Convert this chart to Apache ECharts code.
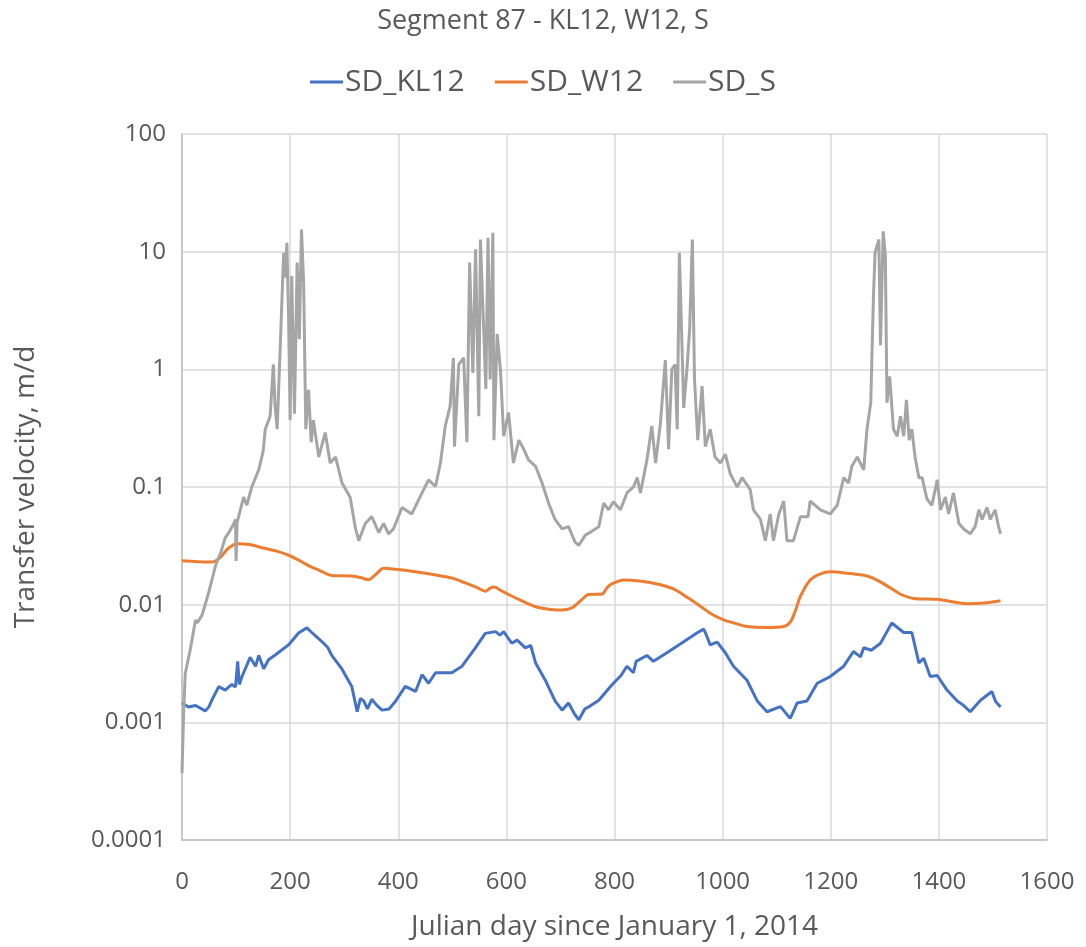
<!DOCTYPE html>
<html>
<head>
<meta charset="utf-8">
<script src="https://cdn.jsdelivr.net/npm/echarts@6/dist/echarts.min.js"></script>
<style>
html,body{margin:0;padding:0;background:#fff;}
#chart{width:1086px;height:947px;}
</style>
</head>
<body>
<div id="chart"></div>
<script>
const chartTitle = "Segment 87 - KL12, W12, S";
const seriesNames = ["SD_KL12", "SD_W12", "SD_S"];
const xTickLabels = ["0","200","400","600","800","1000","1200","1400","1600"];
const yTickLabels = ["0.0001","0.001","0.01","0.1","1","10","100"];

const kl12Days = [0,12,25,43,50,55,68,80,92,99,103,106,111,126,136,142,151,160,173,197,216,231,240,247,262,270,277,296,314,324,330,336,343,351,360,370,383,395,413,432,444,456,469,499,518,543,561,580,588,595,610,620,635,645,654,672,690,703,715,725,734,745,752,771,789,798,812,823,835,840,860,872,897,928,953,965,970,977,990,1005,1020,1045,1064,1082,1107,1125,1138,1156,1175,1199,1224,1242,1255,1261,1275,1292,1313,1325,1335,1350,1363,1372,1384,1397,1415,1434,1445,1458,1477,1498,1505,1514];
const kl12Vals = [0.00146,0.00135,0.00139,0.00125,0.00136,0.00154,0.00201,0.00188,0.0021,0.0020,0.0033,0.0021,0.00245,0.00357,0.0030,0.0037,0.00285,0.0034,0.00375,0.00455,0.00577,0.00635,0.0058,0.00543,0.0047,0.0043,0.0037,0.00283,0.00202,0.00123,0.0016,0.00152,0.0013,0.00157,0.0014,0.00127,0.0013,0.00151,0.00202,0.00183,0.00254,0.00215,0.00264,0.00264,0.0030,0.00431,0.0057,0.0059,0.0055,0.0059,0.0047,0.0050,0.0043,0.0045,0.0032,0.00228,0.00152,0.00127,0.00146,0.0012,0.00105,0.0013,0.00135,0.00154,0.00193,0.00215,0.0025,0.0030,0.00264,0.0033,0.0037,0.0033,0.0039,0.00484,0.00577,0.0062,0.0055,0.00455,0.0048,0.0039,0.0030,0.00228,0.00152,0.00123,0.00136,0.00108,0.00146,0.00152,0.00215,0.00245,0.0030,0.0040,0.0036,0.0043,0.0041,0.0047,0.0070,0.0063,0.0058,0.0058,0.0032,0.0035,0.00245,0.0025,0.00188,0.00152,0.0014,0.00123,0.00154,0.00183,0.0015,0.00135];

const w12Days = [0,30,55,70,85,102,125,148,175,197,215,234,255,277,314,330,345,358,373,395,419,475,500,524,545,561,570,577,590,604,630,654,675,697,721,740,752,777,786,795,817,850,879,909,935,959,980,1002,1025,1045,1080,1113,1125,1135,1144,1162,1180,1199,1230,1267,1290,1310,1330,1353,1397,1452,1489,1514];
const w12Vals = [0.0236,0.0232,0.023,0.025,0.030,0.033,0.0325,0.0305,0.0285,0.0263,0.024,0.0215,0.0195,0.0177,0.0175,0.017,0.0163,0.018,0.0204,0.020,0.0194,0.0177,0.0168,0.0153,0.014,0.0130,0.0138,0.0141,0.0132,0.0122,0.0107,0.0096,0.0092,0.0090,0.0094,0.0111,0.0122,0.0123,0.0139,0.015,0.0162,0.0158,0.015,0.0136,0.0115,0.0097,0.0083,0.00744,0.0069,0.00653,0.0064,0.00653,0.0071,0.0090,0.0118,0.0162,0.0182,0.0190,0.0185,0.0175,0.0158,0.0139,0.0122,0.0113,0.0111,0.0102,0.0104,0.0108];

const sDays = [0,3,6,15,25,28,37,49,62,72,80,88,95,99,100,102,114,120,129,142,150,154,163,169,172,176,182,188,191,194,197,200,203,208,213,217,221,225,229,234,239,243,253,265,274,284,296,311,321,327,339,351,364,373,382,391,407,425,444,456,469,478,487,496,502,504,512,521,527,532,538,543,549,552,558,562,566,570,575,577,583,589,595,604,613,623,632,641,654,666,678,690,703,715,727,734,746,758,771,780,789,798,811,823,835,842,848,860,869,876,885,894,897,900,906,912,916,920,924,928,934,939,944,948,954,962,968,977,986,996,1005,1014,1027,1036,1051,1057,1070,1079,1088,1094,1104,1113,1119,1131,1144,1158,1162,1181,1199,1212,1224,1233,1239,1249,1261,1267,1274,1279,1282,1289,1292,1297,1301,1304,1309,1316,1323,1329,1335,1340,1345,1350,1356,1363,1369,1378,1387,1397,1403,1412,1418,1427,1437,1446,1458,1467,1474,1480,1489,1495,1504,1510,1514];
const sVals = [0.00037,0.0012,0.0026,0.0041,0.0074,0.0070,0.0081,0.0125,0.0215,0.028,0.037,0.042,0.048,0.053,0.0235,0.05,0.082,0.07,0.10,0.14,0.2,0.31,0.40,1.1,0.5,0.31,1.67,9.8,6,11.9,3,0.37,6.2,0.42,8.1,1.8,15.4,5.4,0.31,0.67,0.24,0.37,0.18,0.29,0.16,0.18,0.108,0.082,0.044,0.035,0.049,0.056,0.041,0.049,0.040,0.044,0.067,0.059,0.089,0.115,0.101,0.16,0.33,0.49,1.25,0.22,1.1,1.25,0.24,8.1,0.93,10.5,0.40,12.7,2.2,0.68,13.1,0.82,14.5,0.25,2.0,1.0,0.27,0.43,0.16,0.25,0.21,0.17,0.15,0.108,0.073,0.053,0.044,0.046,0.034,0.032,0.039,0.042,0.046,0.073,0.064,0.075,0.064,0.089,0.10,0.12,0.089,0.17,0.33,0.16,0.35,1.2,0.52,0.21,1.0,1.1,0.31,9.8,2.2,0.47,1.0,2.2,12.7,0.82,0.25,0.72,0.22,0.31,0.18,0.16,0.19,0.13,0.10,0.12,0.095,0.064,0.053,0.035,0.059,0.035,0.059,0.076,0.035,0.035,0.056,0.056,0.076,0.064,0.059,0.07,0.12,0.108,0.15,0.18,0.14,0.31,0.52,4.2,9.8,12.7,1.6,14.9,9.2,0.52,0.87,0.31,0.27,0.40,0.27,0.55,0.25,0.31,0.18,0.12,0.12,0.079,0.07,0.115,0.064,0.082,0.059,0.089,0.049,0.044,0.040,0.046,0.064,0.053,0.067,0.053,0.064,0.047,0.040];

const colors = ["#4472C4", "#ED7D31", "#A5A5A5"];
const textColor = "#595959";
const fontFamily = "'Open Sans', 'Noto Sans', sans-serif";

function pairs(d, v) { return d.map((x, i) => [x, v[i]]); }

const chart = echarts.init(document.getElementById('chart'), null, {renderer: 'canvas'});
chart.setOption({
  animation: false,
  backgroundColor: '#ffffff',
  title: {
    text: chartTitle,
    left: 'center',
    top: 3,
    textStyle: {color: textColor, fontSize: 27, fontWeight: 'normal', fontFamily: fontFamily}
  },
  legend: {
    top: 62,
    left: 'center',
    itemWidth: 33,
    itemHeight: 3,
    itemGap: 30,
    icon: 'rect',
    textStyle: {color: textColor, fontSize: 30, fontFamily: fontFamily, padding: [0,0,0,-3]},
    data: seriesNames
  },
  grid: {left: 182, right: 39, top: 134, bottom: 107, containLabel: false},
  xAxis: {
    type: 'value',
    min: 0, max: 1600, interval: 200,
    name: 'Julian day since January 1, 2014',
    nameLocation: 'middle',
    nameGap: 73,
    nameTextStyle: {color: textColor, fontSize: 28, fontFamily: fontFamily},
    axisLine: {show: true, lineStyle: {color: '#bfbfbf', width: 1.5}},
    axisTick: {show: false},
    axisLabel: {color: textColor, fontSize: 24, fontFamily: fontFamily, margin: 30,
      formatter: (v) => xTickLabels[Math.round(v / 200)] ?? String(v)},
    splitLine: {show: true, lineStyle: {color: '#d9d9d9', width: 1.5}}
  },
  yAxis: {
    type: 'log',
    logBase: 10,
    min: 0.0001, max: 100,
    name: 'Transfer velocity, m/d',
    nameLocation: 'middle',
    nameGap: 142,
    nameRotate: 90,
    nameTextStyle: {color: textColor, fontSize: 28, fontFamily: fontFamily},
    axisLine: {show: true, lineStyle: {color: '#bfbfbf', width: 1.5}},
    axisTick: {show: false},
    axisLabel: {color: textColor, fontSize: 24, fontFamily: fontFamily, margin: 16,
      formatter: (v) => { const k = Math.round(Math.log10(v)) + 4; return yTickLabels[k] ?? String(v); }},
    splitLine: {show: true, lineStyle: {color: '#d9d9d9', width: 1.5}}
  },
  series: [
    {name: seriesNames[0], type: 'line', data: pairs(kl12Days, kl12Vals), showSymbol: false, symbol: 'none',
      lineStyle: {color: colors[0], width: 3}, itemStyle: {color: colors[0]}},
    {name: seriesNames[1], type: 'line', data: pairs(w12Days, w12Vals), showSymbol: false, symbol: 'none', smooth: 0.3,
      lineStyle: {color: colors[1], width: 3}, itemStyle: {color: colors[1]}},
    {name: seriesNames[2], type: 'line', data: pairs(sDays, sVals), showSymbol: false, symbol: 'none',
      lineStyle: {color: colors[2], width: 3}, itemStyle: {color: colors[2]}}
  ]
});
</script>
</body>
</html>
